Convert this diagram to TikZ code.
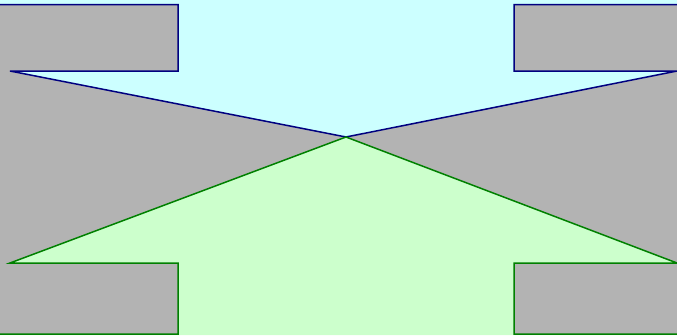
\documentclass[tikz,border=0pt]{standalone}
\definecolor{skyfill}{HTML}{CCFFFF}
\definecolor{leaffill}{HTML}{CCFFCC}
\definecolor{bggray}{HTML}{B3B3B3}
\definecolor{navyline}{HTML}{000080}
\definecolor{greenline}{HTML}{008000}
\begin{document}
\begin{tikzpicture}[x=1pt,y=-1pt,
  topline/.style={draw=navyline,line width=1.5pt,line join=miter},
  botline/.style={draw=greenline,line width=1.5pt,line join=miter}]
\useasboundingbox (0,0) rectangle (677,335);
\fill[bggray] (0,0) rectangle (677,335);
% named points
\coordinate (c) at (346,137);
\coordinate (tl1) at (0,4.5);
\coordinate (tl2) at (178,4.5);
\coordinate (tl3) at (178,71);
\coordinate (tl4) at (10,71);
\coordinate (tr4) at (677,71);
\coordinate (tr3) at (514,71);
\coordinate (tr2) at (514,4.5);
\coordinate (tr1) at (677,4.5);
\coordinate (bl1) at (0,334);
\coordinate (bl2) at (178,334);
\coordinate (bl3) at (178,263);
\coordinate (bl4) at (10,263);
\coordinate (br4) at (677,263);
\coordinate (br3) at (514,263);
\coordinate (br2) at (514,334);
\coordinate (br1) at (677,334);
% fills
\fill[skyfill] (0,0) -- (677,0) -- (tr1) -- (tr2) -- (tr3) -- (tr4) -- (c) -- (tl4) -- (tl3) -- (tl2) -- (tl1) -- cycle;
\fill[leaffill] (0,335) -- (677,335) -- (br1) -- (br2) -- (br3) -- (br4) -- (c) -- (bl4) -- (bl3) -- (bl2) -- (bl1) -- cycle;
% outlines
\draw[topline] (tl1) -- (tl2) -- (tl3) -- (tl4) -- (c) -- (tr4) -- (tr3) -- (tr2) -- (tr1);
\draw[botline] (bl1) -- (bl2) -- (bl3) -- (bl4) -- (c) -- (br4) -- (br3) -- (br2) -- (br1);
\end{tikzpicture}
\end{document}
